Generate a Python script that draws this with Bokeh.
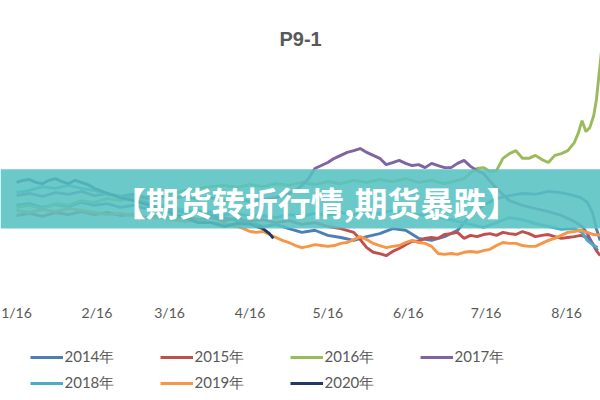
from bokeh.plotting import figure
from bokeh.models import Range1d, FixedTicker, Legend, LegendItem, BoxAnnotation, Label
from bokeh.layouts import column
from bokeh.embed import file_html
from bokeh.resources import INLINE

# x = days since Jan 16; y = P9-1 spread (axis labels are cut off in the source)
tick_days = [0, 31, 59, 90, 120, 151, 181, 212]
tick_labels = ["1/16", "2/16", "3/16", "4/16", "5/16", "6/16", "7/16", "8/16"]

series_names = ["2014年", "2015年", "2016年", "2017年", "2018年", "2019年", "2020年"]
series_colors = ["#4F7DB5", "#C0504D", "#9BBB59", "#8064A2", "#4BACC6", "#F79646", "#203864"]

days_2014 = [0, 5, 10, 15, 20, 25, 30, 35, 40, 45, 50, 55, 60, 65, 70, 75, 80, 85, 90, 95,
             100, 105, 110, 115, 120, 125, 130, 135, 140, 145, 150, 155, 160, 165, 170, 175,
             180, 185, 190, 195, 200, 205, 210, 215, 217.5, 220, 222, 223.5, 225]
vals_2014 = [-94, -90, -99, -92, -97, -87, -94, -90, -99, -94, -102, -97, -106, -111, -106,
             -118, -123, -130, -135, -144, -139, -149, -158, -153, -165, -170, -177, -168,
             -161, -149, -153, -172, -177, -168, -153, -118, -94, -78, -71, -66, -68, -61,
             -64, -71, -76, -87, -111, -149, -177]

days_2015 = [0, 5, 10, 15, 20, 25, 30, 35, 40, 45, 50, 55, 60, 65, 70, 75, 80, 85, 90, 95,
             100, 105, 110, 115, 120, 125, 130, 132.5, 135, 137.5, 140, 142.5, 145, 147.5,
             150, 152.5, 155, 157.5, 160, 162.5, 165, 167.5, 170, 172.5, 175, 177.5, 180,
             182.5, 185, 187.5, 190, 192.5, 195, 197.5, 200, 202.5, 205, 207.5, 210, 212.5,
             215, 217.5, 220, 222, 223.5, 225]
vals_2015 = [-118, -113, -120, -111, -116, -109, -116, -111, -118, -116, -123, -118, -125,
             -120, -128, -123, -130, -125, -132, -128, -135, -130, -139, -135, -144, -149,
             -158, -175, -194, -205, -208, -213, -203, -196, -187, -179, -179, -172, -170,
             -172, -163, -161, -158, -172, -165, -168, -163, -161, -165, -158, -161, -163,
             -156, -161, -168, -165, -163, -168, -172, -170, -168, -165, -170, -184, -201, -213]

days_2016 = [0, 5, 10, 15, 20, 25, 30, 35, 40, 45, 50, 55, 60, 65, 70, 75, 80, 85, 90, 95,
             100, 105, 110, 115, 120, 125, 130, 135, 140, 145, 150, 155, 160, 165, 170,
             172.5, 175, 177.5, 180, 182.5, 185, 187.5, 190, 192.5, 195, 197.5, 200, 202.5,
             205, 207.5, 210, 212.5, 215, 216.5, 218, 219.5, 221, 222.5, 223.5, 224.5, 225.5]
vals_2016 = [-99, -94, -102, -90, -94, -83, -87, -78, -83, -73, -80, -71, -66, -59, -54, -50,
             -47, -52, -45, -50, -43, -47, -40, -45, -38, -43, -35, -40, -33, -38, -31, -40,
             -35, -43, -35, -31, -17, -7, -5, -14, -12, 17, 28, 35, 17, 17, 24, 14, 7, 24,
             28, 35, 54, 76, 106, 80, 90, 118, 154, 213, 272]

days_2017 = [0, 5, 10, 15, 20, 25, 30, 35, 40, 45, 50, 55, 60, 65, 70, 75, 80, 85, 90, 95,
             100, 105, 107.5, 110, 112.5, 115, 117.5, 120, 122.5, 125, 127.5, 130, 132.5,
             135, 137.5, 140, 142.5, 145, 147.5, 150, 152.5, 155, 157.5, 160, 162.5, 165,
             167.5, 170, 172.5, 175, 177.5, 180, 185, 190, 195, 200, 205, 210, 215, 218,
             220, 222, 224]
vals_2017 = [-71, -66, -73, -64, -68, -61, -71, -66, -73, -68, -76, -71, -78, -73, -80, -76,
             -83, -78, -85, -80, -76, -66, -59, -47, -31, -7, 0, 7, 17, 24, 31, 35, 40, 31,
             24, 17, 2, 7, 12, 5, 0, 2, -5, 5, 0, -5, -5, 5, 12, -2, -12, -19, -54, -83,
             -94, -102, -109, -118, -132, -144, -161, -184, -201]

days_2018 = [0, 5, 10, 15, 20, 25, 30, 35, 40, 45, 50, 55, 60, 65, 70, 75, 80, 85, 90, 95,
             100, 105, 110, 115, 120, 125, 130, 135, 140, 145, 150, 155, 160, 165, 170, 175,
             180, 185, 190, 195, 200, 205, 210, 215, 218, 220, 222, 224]
vals_2018 = [-64, -59, -50, -54, -47, -54, -59, -68, -73, -80, -87, -94, -99, -106, -111,
             -109, -116, -113, -120, -118, -123, -116, -120, -113, -118, -111, -116, -109,
             -113, -106, -111, -116, -120, -125, -132, -139, -146, -135, -123, -128, -137,
             -144, -151, -149, -158, -177, -187, -194]

days_2019 = [0, 5, 10, 15, 20, 25, 30, 35, 40, 45, 50, 55, 60, 65, 70, 75, 80, 85, 87.5, 90,
             92.5, 95, 97.5, 100, 102.5, 105, 107.5, 110, 112.5, 115, 117.5, 120, 122.5, 125,
             127.5, 130, 132.5, 135, 137.5, 140, 142.5, 145, 147.5, 150, 152.5, 155, 157.5,
             160, 162.5, 165, 167.5, 170, 172.5, 175, 177.5, 180, 182.5, 185, 187.5, 190,
             192.5, 195, 197.5, 200, 202.5, 205, 207.5, 210, 212.5, 215, 217.5, 220, 222.5, 225]
vals_2019 = [-106, -111, -104, -109, -102, -106, -111, -116, -113, -118, -125, -123, -128,
             -132, -130, -135, -137, -144, -149, -156, -158, -156, -163, -170, -177, -182,
             -189, -194, -191, -187, -189, -191, -189, -184, -182, -175, -168, -175, -184,
             -189, -194, -191, -189, -182, -177, -182, -184, -191, -208, -210, -208, -210,
             -205, -203, -205, -201, -198, -189, -182, -184, -184, -189, -191, -191, -184,
             -177, -172, -165, -158, -156, -153, -158, -163, -165]

days_2020 = [0, 2.5, 5, 7.5, 10, 12.5, 15, 17.5, 20, 22.5, 25, 27.5, 30, 35, 40, 45, 50, 55,
             60, 65, 70, 75, 80, 85, 90, 95, 97.5, 99]
vals_2020 = [-40, -35, -33, -40, -43, -35, -31, -38, -43, -35, -40, -45, -54, -66, -76, -83,
             -92, -102, -113, -123, -135, -135, -144, -137, -139, -149, -161, -172]

series_days = [days_2014, days_2015, days_2016, days_2017, days_2018, days_2019, days_2020]
series_vals = [vals_2014, vals_2015, vals_2016, vals_2017, vals_2018, vals_2019, vals_2020]

# ---- main chart ----
p = figure(width=600, height=330, x_range=Range1d(-6.17, 225.1),
           y_range=Range1d(-300, 389.8),
           output_backend="svg", toolbar_location=None, title=None,
           y_axis_location=None, min_border_left=0, min_border_right=0,
           min_border_top=0, min_border_bottom=38, outline_line_color=None)
p.xgrid.visible = False
p.ygrid.visible = False

xa = p.xaxis[0]
xa.ticker = FixedTicker(ticks=tick_days)
xa.major_label_overrides = {d: t for d, t in zip(tick_days, tick_labels)}
xa.axis_line_color = None
xa.major_tick_line_color = None
xa.minor_tick_line_color = None
xa.major_tick_out = 0
xa.minor_tick_out = 0
xa.major_label_standoff = 11
xa.major_label_text_font = "Lato"
xa.major_label_text_font_size = "14px"
xa.major_label_text_color = "#595959"

for col, d, v in zip(series_colors, series_days, series_vals):
    p.line(d, v, line_color=col, line_width=2.9)

banner = BoxAnnotation(top=-9, bottom=-149, fill_color="#58C2C2", fill_alpha=0.88,
                       line_color=None)
p.add_layout(banner)

p.add_layout(Label(x=115.5, y=-86, text="【期货转折行情,期货暴跌】", text_align="center",
                   text_baseline="middle", text_font="Noto Sans CJK SC",
                   text_font_style="bold", text_font_size="33px", text_color="white"))

p.add_layout(Label(x=109.5, y=300, text="P9-1", text_align="center", text_baseline="middle",
                   text_font="Liberation Sans", text_font_style="bold",
                   text_font_size="20px", text_color="#595959"))

# ---- legend strip (same series, drawn outside its view; only the legend shows) ----
q = figure(width=600, height=70, x_range=Range1d(1000, 1001), y_range=Range1d(1000, 1001),
           output_backend="svg", toolbar_location=None, title=None,
           x_axis_location=None, y_axis_location=None, min_border_left=0,
           min_border_right=0, min_border_top=0, min_border_bottom=0,
           outline_line_color=None)
q.xgrid.visible = False
q.ygrid.visible = False

items = []
for name, col, d, v in zip(series_names, series_colors, series_days, series_vals):
    r = q.line(d, v, line_color=col, line_width=2.9)
    items.append(LegendItem(label=name, renderers=[r]))

legend = Legend(items=items, location=(29.5, 4), orientation="horizontal", ncols=4,
                glyph_width=33, glyph_height=26, label_height=26, label_width=95,
                label_standoff=2, spacing=0, padding=0, margin=0,
                border_line_color=None, background_fill_alpha=0,
                label_text_font="Lato", label_text_font_size="15px",
                label_text_color="#595959")
q.add_layout(legend)

layout = column(p, q, spacing=0)
open("out.html", "w").write(file_html(layout, INLINE))
